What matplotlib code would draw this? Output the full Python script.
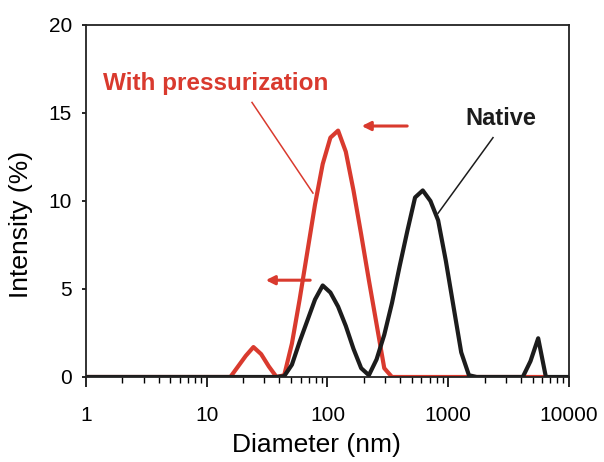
import matplotlib
matplotlib.use("Agg")
import matplotlib.pyplot as plt

# size bins (nm) and intensities (%)
diam_red = [1, 13.54, 15.69, 18.17, 21.04, 24.36, 28.21, 32.67, 37.84, 43.82,
            50.75, 58.77, 68.06, 78.82, 91.28, 105.7, 122.4, 141.8, 164.2,
            190.1, 220.2, 255.0, 295.3, 342.0, 1000, 6439]
int_red = [0, 0, 0, 0.6, 1.2, 1.7, 1.3, 0.6, 0.0, 0.1,
           1.9, 4.4, 7.1, 9.8, 12.1, 13.6, 14.0, 12.8, 10.6,
           8.1, 5.5, 3.0, 0.5, 0, 0, 0]

diam_black = [1, 37.84, 43.82, 50.75, 58.77, 68.06, 78.82, 91.28, 105.7, 122.4,
              141.8, 164.2, 190.1, 220.2, 255.0, 295.3, 342.0, 396.1, 458.7,
              531.2, 615.1, 712.4, 825.0, 955.4, 1106, 1281, 1484, 1718,
              3580, 4145, 4801, 5560, 6439, 7456, 10000]
int_black = [0, 0, 0.05, 0.7, 2.0, 3.2, 4.4, 5.2, 4.8, 4.0,
             2.9, 1.6, 0.5, 0.1, 1.0, 2.4, 4.2, 6.3, 8.3,
             10.2, 10.6, 10.0, 8.9, 6.6, 4.0, 1.4, 0.1, 0,
             0, 0, 0.9, 2.2, 0, 0, 0]

RED = "#d93a2e"
BLACK = "#1c1c1c"

plt.rcParams["font.family"] = ["Liberation Sans", "DejaVu Sans"]

fig = plt.figure(figsize=(6.04, 4.62), dpi=100)
ax = fig.add_axes([0.1424, 0.184, 0.7996, 0.7619])

ax.plot(diam_red, int_red, color=RED, lw=3, solid_joinstyle="round")
ax.plot(diam_black, int_black, color=BLACK, lw=3, solid_joinstyle="round")

ax.set_xscale("log")
ax.set_xlim(1, 10000)
ax.set_ylim(0, 20)
ax.set_yticks([0, 5, 10, 15, 20])
ax.set_xticks([1, 10, 100, 1000, 10000])
ax.set_xticklabels(["1", "10", "100", "1000", "10000"])

ax.tick_params(axis="x", which="major", direction="out", length=7, width=1.2,
               labelsize=15, pad=14)
ax.tick_params(axis="x", which="minor", direction="out", length=4, width=1.0)
ax.tick_params(axis="y", direction="out", length=3, width=1.2, labelsize=15, pad=7)
for s in ax.spines.values():
    s.set_linewidth(1.3)
    s.set_color("#222222")

ax.set_xlabel("Diameter (nm)", fontsize=19)
ax.set_ylabel("Intensity (%)", fontsize=19)
ax.xaxis.set_label_coords(0.478, -0.16)
ax.yaxis.set_label_coords(-0.11, 0.432)

# annotations
ax.text(1.38, 16.3, "With pressurization", color=RED, fontsize=17.5,
        fontweight="bold", ha="left", va="baseline")
ax.plot([23.7, 75.8], [15.6, 10.45], color=RED, lw=1.1)
ax.text(2735, 14.3, "Native", color=BLACK, fontsize=17, fontweight="bold",
        ha="center", va="baseline")
ax.plot([2349, 823], [13.6, 9.3], color=BLACK, lw=1.1)

arrow = dict(arrowstyle="-|>", color=RED, lw=2.2, mutation_scale=13)
ax.annotate("", xy=(182, 14.26), xytext=(482, 14.26), arrowprops=arrow)
ax.annotate("", xy=(29.2, 5.5), xytext=(75.8, 5.5), arrowprops=arrow)

fig.savefig("out.png", dpi=100)
